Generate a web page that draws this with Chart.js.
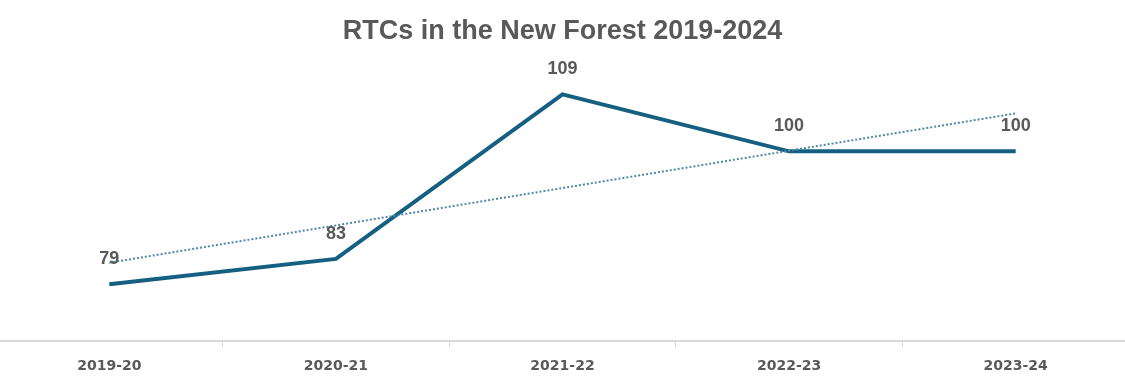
<!DOCTYPE html>
<html>
<head>
<meta charset="utf-8">
<script src="https://cdn.jsdelivr.net/npm/chart.js@4.4.1/dist/chart.umd.min.js"></script>
<style>
  html, body { margin: 0; padding: 0; background: #ffffff; overflow: hidden; }
  #wrap { position: absolute; left: -4px; top: 0; width: 1133px; height: 386px; }
</style>
</head>
<body>
<div id="wrap"><canvas id="rtc-chart"></canvas></div>
<script>
// Chart data
const years      = [ '2019-20', '2020-21', '2021-22', '2022-23', '2023-24' ];
const rtc_counts = [ 79, 83, 109, 100, 100 ];
// linear trendline
const rtc_trend  = [ 82.4, 88.3, 94.2, 100.1, 106.0 ];

const line_color  = '#156082';
const trend_color = '#4f88ab';
const text_color  = '#595959';
const axis_color  = '#d9d9d9';

/**
 * Draw the value labels above each point of the first dataset
 */
const rtc_value_labels = {
    id: 'rtcValueLabels',
    afterDatasetsDraw( chart ) {
        let ctx  = chart.ctx;
        let meta = chart.getDatasetMeta( 0 );

        ctx.save();
        ctx.font         = 'bold 18px "Liberation Sans", Arial, sans-serif';
        ctx.fillStyle    = text_color;
        ctx.textAlign    = 'center';
        ctx.textBaseline = 'middle';

        meta.data.forEach( function( point, i ) {
            ctx.fillText( String( rtc_counts[ i ] ), point.x, point.y - 25 );
        });

        ctx.restore();
    }
};

let rtc_ctx = document.getElementById( 'rtc-chart' );

let rtc_chart = new Chart( rtc_ctx, {
    type: 'line',
    data: {
        labels: years,
        datasets: [
            {
                label: 'RTCs',
                data: rtc_counts,
                borderColor: line_color,
                borderWidth: 4,
                pointRadius: 0,
                tension: 0,
                order: 2
            },
            {
                label: 'Linear trend',
                data: rtc_trend,
                borderColor: trend_color,
                borderWidth: 2,
                borderDash: [ 2, 2 ],
                pointRadius: 0,
                tension: 0,
                order: 1
            }
        ]
    },
    options: {
        responsive: true,
        maintainAspectRatio: false,
        animation: false,
        layout: { padding: 0 },
        plugins: {
            legend:  { display: false },
            tooltip: { enabled: false },
            title: {
                display: true,
                text: 'RTCs in the New Forest 2019-2024',
                color: text_color,
                font: { family: '"Liberation Sans", Arial, sans-serif', size: 27, weight: 'bold' },
                padding: { top: 15, bottom: 9 }
            }
        },
        scales: {
            x: {
                offset: true,
                border: { display: true, color: axis_color, width: 2 },
                grid: {
                    offset: true,
                    drawOnChartArea: false,
                    drawTicks: true,
                    tickLength: 6,
                    color: axis_color
                },
                ticks: {
                    color: text_color,
                    padding: 11,
                    font: { family: '"DejaVu Sans", sans-serif', size: 14, weight: 'bold' }
                }
            },
            y: {
                display: false,
                min: 70,
                max: 115
            }
        }
    },
    plugins: [ rtc_value_labels ]
});
</script>
</body>
</html>
